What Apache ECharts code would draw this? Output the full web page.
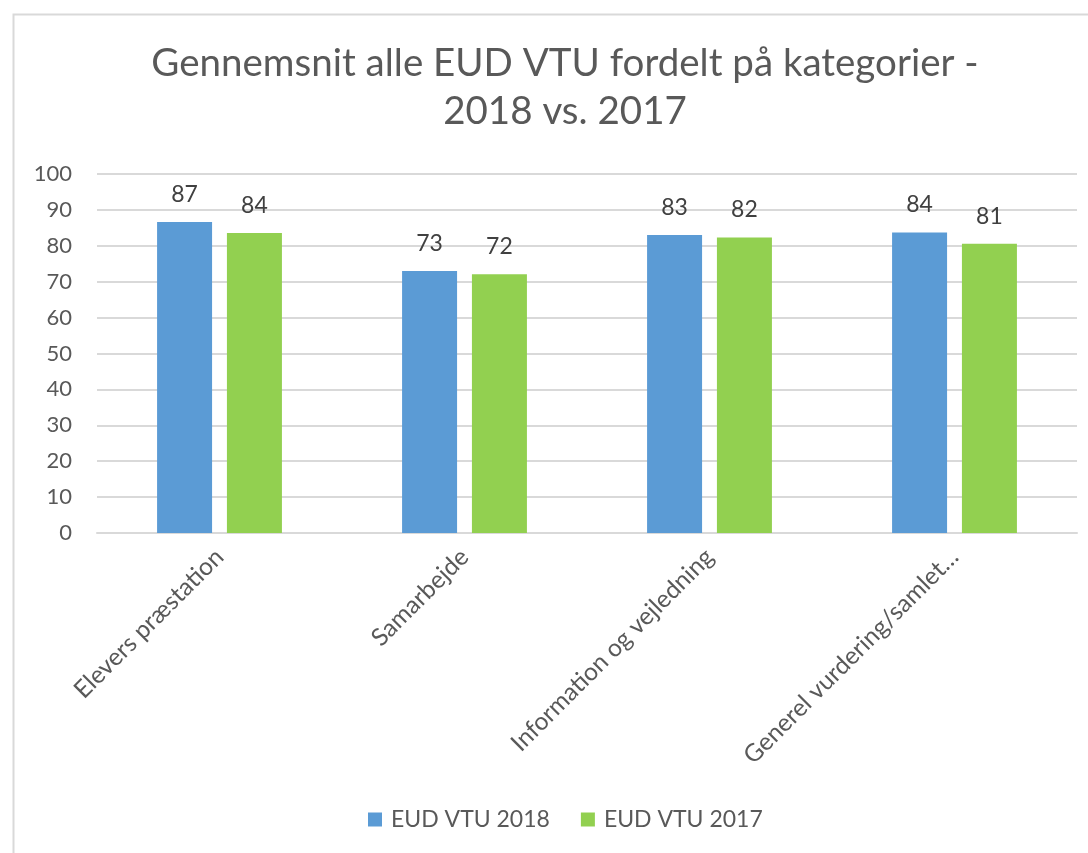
<!DOCTYPE html>
<html>
<head>
<meta charset="utf-8">
<script src="https://cdn.jsdelivr.net/npm/echarts@6/dist/echarts.min.js"></script>
<style>html,body{margin:0;padding:0;background:#fff}#c{width:1088px;height:853px}</style>
</head>
<body>
<div id="c"></div>
<script>
const categories = ["Elevers præstation", "Samarbejde", "Information og vejledning", "Generel vurdering/samlet…"];
const series2018 = [86.6, 73.0, 83.0, 83.7];
const series2017 = [83.6, 72.1, 82.3, 80.6];
const seriesNames = ["EUD VTU 2018", "EUD VTU 2017"];
const titleText = "Gennemsnit alle EUD VTU fordelt på kategorier -\n2018 vs. 2017";

const FONT = "Lato, 'Open Sans', sans-serif";
const chart = echarts.init(document.getElementById('c'), null, {renderer: 'canvas'});
chart.setOption({
  backgroundColor: '#fff',
  animation: false,
  textStyle: {fontFamily: FONT},
  graphic: [{
    type: 'rect', left: 11, top: 12, z: -1,
    shape: {width: 1100, height: 900},
    style: {fill: 'none', stroke: '#d9d9d9', lineWidth: 2}
  }],
  title: {
    text: titleText,
    left: 560,
    textAlign: 'center',
    top: 35,
    textStyle: {fontFamily: FONT, fontSize: 38.5, fontWeight: 'normal', color: '#595959', lineHeight: 48}
  },
  legend: {
    bottom: 17,
    left: 363,
    itemWidth: 14, itemHeight: 14, itemGap: 31,
    icon: 'rect',
    textStyle: {fontFamily: FONT, fontSize: 23, color: '#595959', padding: [0, 0, 0, 4]},
    data: seriesNames
  },
  grid: {left: 97, right: 11, top: 174, bottom: 320, containLabel: false},
  xAxis: {
    type: 'category',
    data: categories,
    axisLine: {lineStyle: {color: '#d9d9d9', width: 2}},
    axisTick: {show: false},
    axisLabel: {rotate: 45, margin: 20, fontFamily: FONT, fontSize: 24.5, color: '#595959', interval: 0}
  },
  yAxis: {
    type: 'value', min: 0, max: 100, interval: 10,
    axisLine: {show: false},
    axisTick: {show: false},
    splitLine: {lineStyle: {color: '#d9d9d9', width: 2}},
    axisLabel: {margin: 25, fontFamily: FONT, fontSize: 22, color: '#595959'}
  },
  series: [
    {
      name: seriesNames[0], type: 'bar', data: series2018,
      barWidth: 55, barGap: '27%',
      itemStyle: {color: '#5B9BD5'},
      label: {show: true, position: 'top', distance: 16, fontFamily: FONT, fontSize: 23, color: '#404040',
        formatter: p => Math.round(p.value)}
    },
    {
      name: seriesNames[1], type: 'bar', data: series2017,
      barWidth: 55,
      itemStyle: {color: '#92D050'},
      label: {show: true, position: 'top', distance: 16, fontFamily: FONT, fontSize: 23, color: '#404040',
        formatter: p => Math.round(p.value)}
    }
  ]
});
</script>
</body>
</html>
